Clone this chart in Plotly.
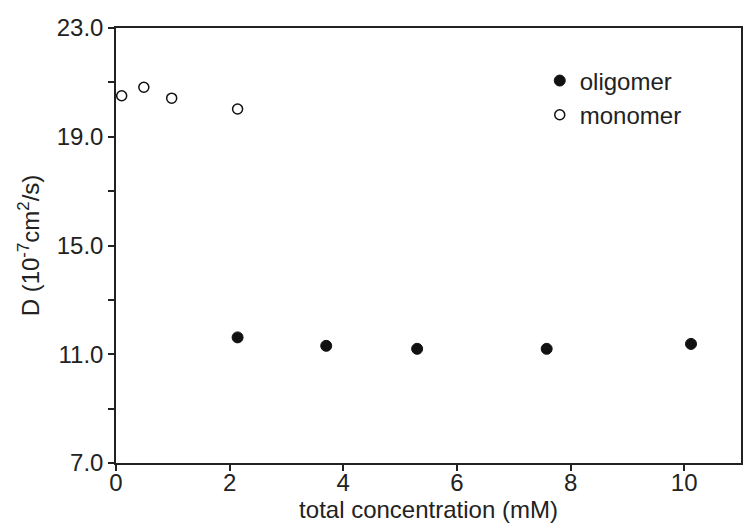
import plotly.graph_objects as go

oligomer_x = [2.14, 3.70, 5.30, 7.58, 10.12]
oligomer_y = [11.62, 11.31, 11.20, 11.20, 11.38]
monomer_x = [0.10, 0.49, 0.98, 2.14]
monomer_y = [20.51, 20.82, 20.42, 20.02]

y_ticks = [7.0, 11.0, 15.0, 19.0, 23.0]
y_ticklabels = ["7.0", "11.0", "15.0", "19.0", "23.0"]
y_minor = [9.0, 13.0, 17.0, 21.0]
x_ticks = [0, 2, 4, 6, 8, 10]

fig = go.Figure()
fig.add_trace(go.Scatter(x=oligomer_x, y=oligomer_y, mode="markers", name="oligomer",
                         marker=dict(symbol="circle", size=11, color="#111111",
                                     line=dict(color="#111111", width=1))))
fig.add_trace(go.Scatter(x=monomer_x, y=monomer_y, mode="markers", name="monomer",
                         marker=dict(symbol="circle", size=10, color="white",
                                     line=dict(color="#111111", width=1.5))))

font = "Liberation Sans, Arial, sans-serif"
fig.update_layout(
    width=750, height=532,
    margin=dict(l=116, r=9, t=28, b=69),
    paper_bgcolor="white", plot_bgcolor="white",
    font=dict(family=font, color="#222222", size=24),
    showlegend=True,
    legend=dict(x=0.678, y=0.93, xanchor="left", yanchor="top",
                font=dict(size=24, family=font, color="#222222"),
                bgcolor="rgba(0,0,0,0)", tracegroupgap=0),
    xaxis=dict(range=[0, 11], tickvals=x_ticks, ticktext=[str(v) for v in x_ticks],
               showgrid=False, zeroline=False, showline=True, linecolor="#222222",
               linewidth=1.5, mirror=True, ticks="outside", ticklen=6, tickwidth=1.5,
               tickcolor="#222222", tickfont=dict(size=24), automargin=False,
               ticklabelstandoff=-9,
               title=dict(text="total concentration (mM)", font=dict(size=24), standoff=0)),
    yaxis=dict(range=[7, 23], tickvals=y_ticks, ticktext=y_ticklabels,
               showgrid=False, zeroline=False, showline=True, linecolor="#222222",
               linewidth=1.5, mirror=True, ticks="outside", ticklen=6, tickwidth=1.5,
               tickcolor="#222222", tickfont=dict(size=24), automargin=False,
               minor=dict(tickvals=y_minor, ticks="outside", ticklen=6,
                          tickcolor="#222222", tickwidth=1.5),
               title=dict(text="D (10<sup>-7</sup>cm<sup>2</sup>/s)", font=dict(size=24), standoff=10)),
)

fig.write_html("out.html", config={"displayModeBar": False},
               post_script="document.body.style.margin='0';document.body.style.overflow='hidden';")
